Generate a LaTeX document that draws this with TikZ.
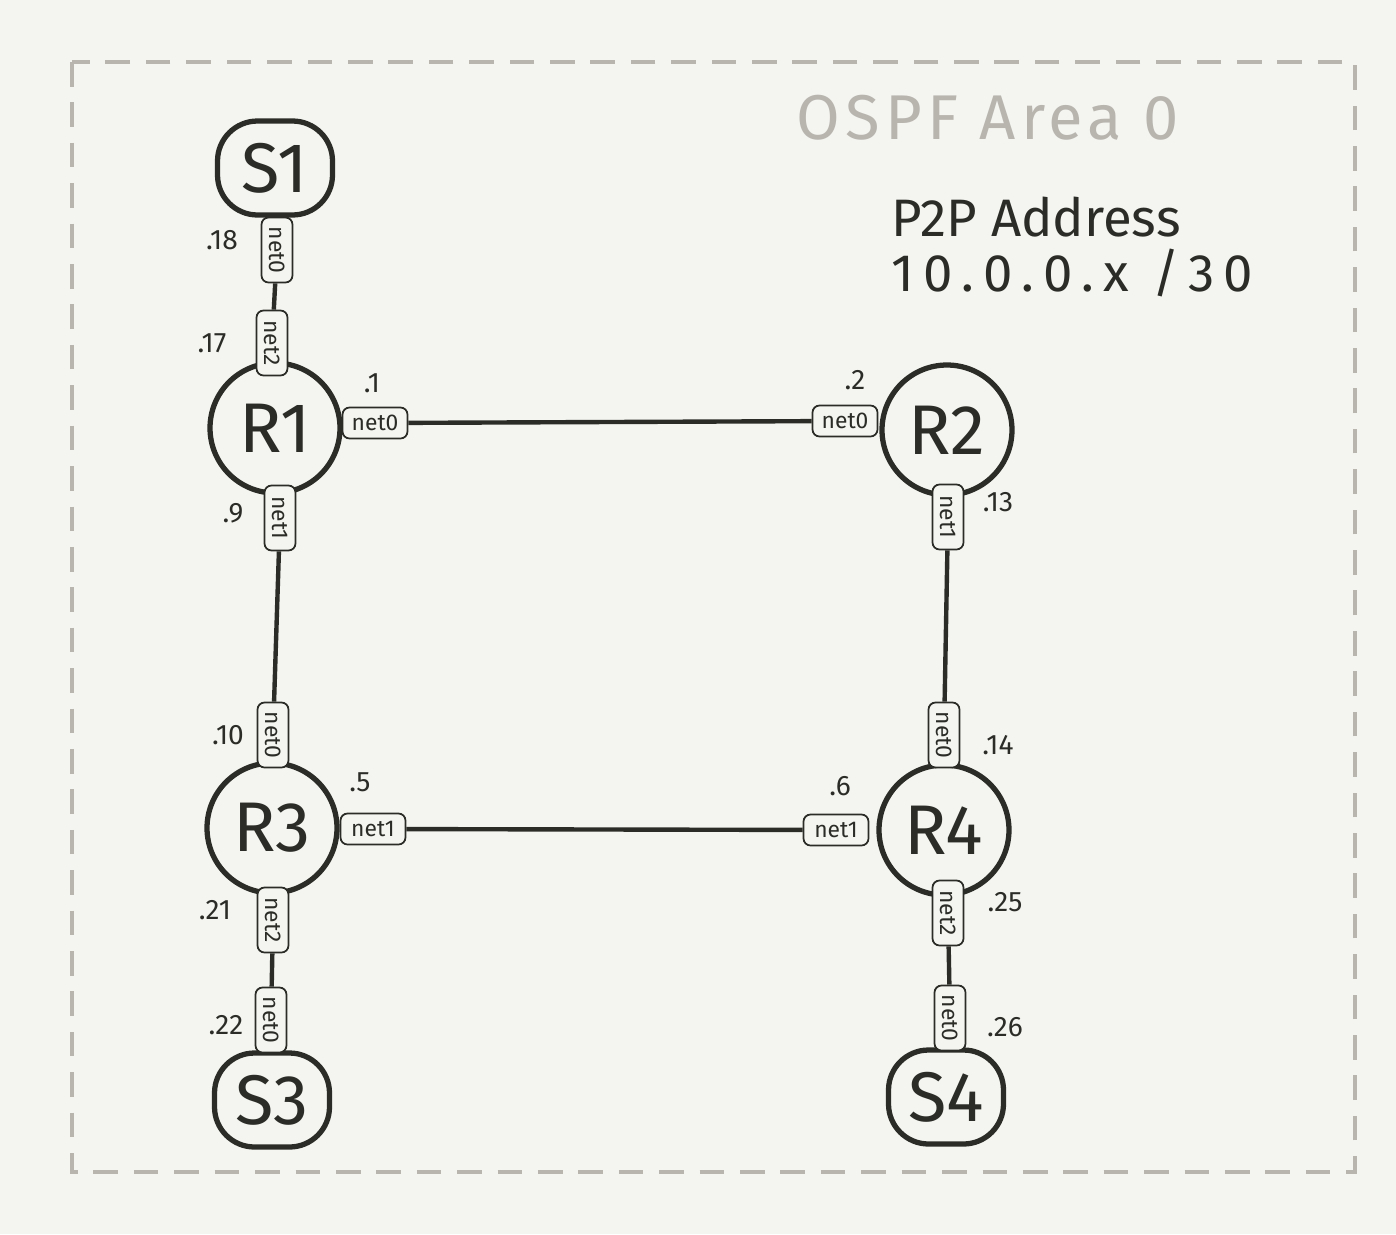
\documentclass[tikz,border=0pt]{standalone}
\usepackage{fontspec}
\setmainfont{Fira Sans}
\definecolor{paper}{HTML}{F4F4F0}
\definecolor{pencil}{HTML}{2B2B28}
\definecolor{framegray}{HTML}{B8B5AF}
\begin{document}
\begin{tikzpicture}[x=0.02cm,y=-0.02cm,
  router/.style={circle,draw=pencil,line width=3pt,minimum size=2.6cm,inner sep=0pt,text=pencil,font=\fontsize{40}{44}\selectfont},
  server/.style={rectangle,rounded corners=0.8cm,draw=pencil,line width=3pt,minimum width=2.3cm,minimum height=1.88cm,inner sep=0pt,text=pencil,font=\fontsize{40}{44}\selectfont},
  port/.style={rectangle,rounded corners=4pt,draw=pencil,line width=1pt,fill=paper,minimum width=1.3cm,minimum height=0.62cm,inner sep=1pt,text=pencil,font=\fontsize{13}{15}\selectfont},
  vport/.style={port,rotate=-90},
  addr/.style={text=pencil,font=\fontsize{16}{18}\selectfont},
  link/.style={draw=pencil,line width=2.5pt}]
\fill[paper] (0,0) rectangle (1396,1234);
\draw[framegray,line width=2pt,dash pattern=on 14pt off 9pt] (72,62) rectangle (1355,1172);
\node[text=framegray,font=\fontsize{36}{40}\selectfont\addfontfeatures{LetterSpace=8}] (title) at (988,118) {OSPF Area 0};
\node[text=pencil,align=left,anchor=west,font=\fontsize{30}{31}\selectfont] (note) at (885,247) {P2P Address\\{\addfontfeatures{LetterSpace=18}10.0.0.x /30}};

\node[server] (s1) at (275,168) {S1};
\node[router] (r1) at (275,428) {R1};
\node[router] (r2) at (947,430) {R2};
\node[router] (r3) at (272,828) {R3};
\node[router] (r4) at (944,830) {R4};
\node[server] (s3) at (272,1100) {S3};
\node[server] (s4) at (946,1097) {S4};

\node[vport] (s1n0) at (277,250) {net0};
\node[vport] (r1n2) at (272,343) {net2};
\node[port] (r1n0) at (375,423) {net0};
\node[vport] (r1n1) at (280,518) {net1};
\node[port] (r2n0) at (845,421) {net0};
\node[vport] (r2n1) at (948,517) {net1};
\node[vport] (r3n0) at (273,735) {net0};
\node[port] (r3n1) at (373,829) {net1};
\node[vport] (r3n2) at (273,920) {net2};
\node[vport] (r4n0) at (944,735) {net0};
\node[port] (r4n1) at (836,830) {net1};
\node[vport] (r4n2) at (948,913) {net2};
\node[vport] (s3n0) at (271,1020) {net0};
\node[vport] (s4n0) at (950,1018) {net0};

\draw[link] (s1n0) -- (r1n2);
\draw[link] (r1n0) -- (r2n0);
\draw[link] (r1n1) -- (r3n0);
\draw[link] (r2n1) -- (r4n0);
\draw[link] (r3n1) -- (r4n1);
\draw[link] (r3n2) -- (s3n0);
\draw[link] (r4n2) -- (s4n0);

\node[addr] (a18) at (222,240) {.18};
\node[addr] (a17) at (212,343) {.17};
\node[addr] (a1) at (372,383) {.1};
\node[addr] (a2) at (855,380) {.2};
\node[addr] (a9) at (233,513) {.9};
\node[addr] (a13) at (998,502) {.13};
\node[addr] (a10) at (228,735) {.10};
\node[addr] (a14) at (998,745) {.14};
\node[addr] (a5) at (360,782) {.5};
\node[addr] (a6) at (840,786) {.6};
\node[addr] (a21) at (215,910) {.21};
\node[addr] (a25) at (1005,902) {.25};
\node[addr] (a22) at (226,1025) {.22};
\node[addr] (a26) at (1005,1027) {.26};
\end{tikzpicture}
\end{document}
